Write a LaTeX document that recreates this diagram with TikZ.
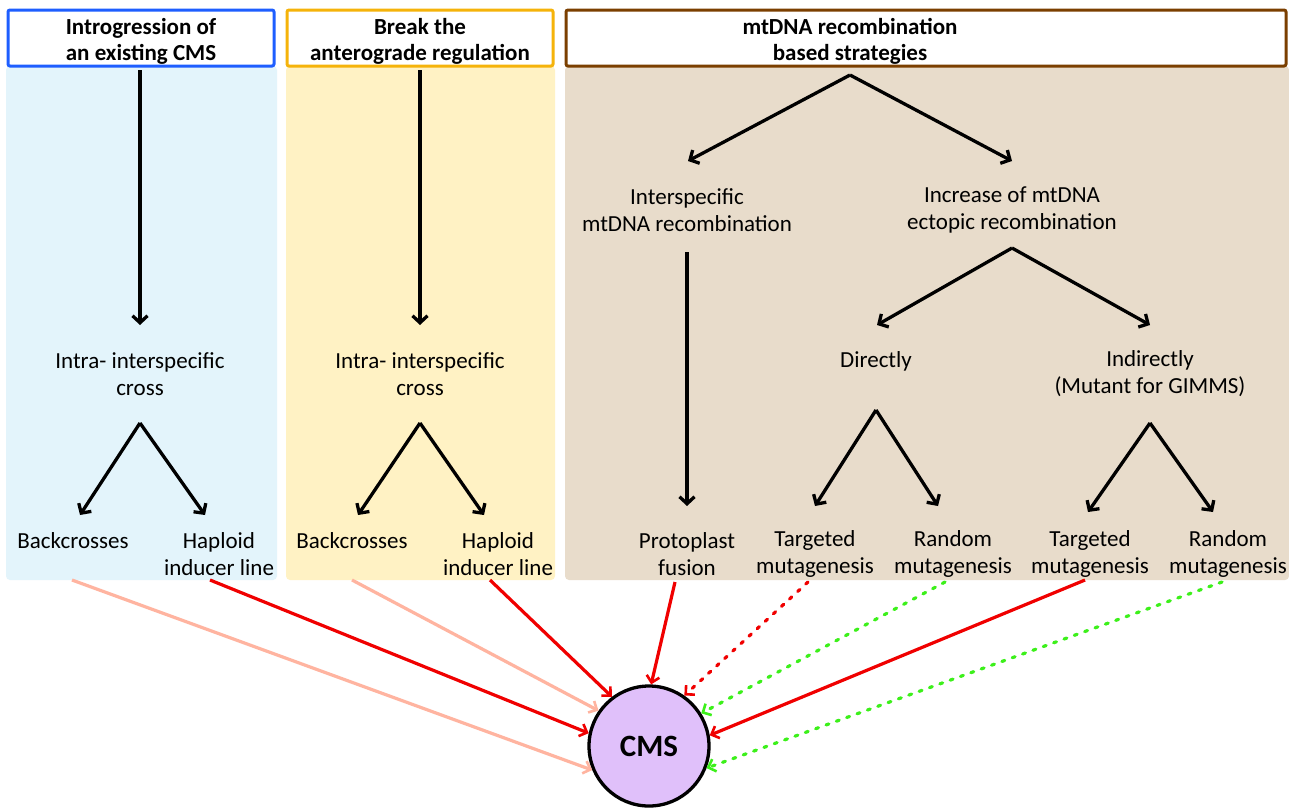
\documentclass[tikz,border=0pt]{standalone}
\usepackage{fontspec}
\setmainfont{Carlito}
\usetikzlibrary{arrows.meta}
\definecolor{bluebd}{HTML}{1E5EFF}
\definecolor{yellowbd}{HTML}{F5B30A}
\definecolor{brownbd}{HTML}{7B3F00}
\definecolor{bluebg}{HTML}{E3F4FB}
\definecolor{yellowbg}{HTML}{FFF2C4}
\definecolor{brownbg}{HTML}{E8DCCB}
\definecolor{salmon}{HTML}{FFB4A0}
\definecolor{redc}{HTML}{F00000}
\definecolor{greenc}{HTML}{3CF01A}
\definecolor{lav}{HTML}{E0C0FA}
\begin{document}
\begin{tikzpicture}[x=1pt,y=-1pt,
  hdr/.style={draw, line width=3pt, rounded corners=2pt, fill=white, align=center, inner sep=0pt,
     font=\fontsize{23}{26}\selectfont\bfseries},
  htxt/.style={align=center, inner sep=0pt, font=\fontsize{23}{26}\selectfont\bfseries},
  lbl/.style={align=center, inner sep=0pt, font=\fontsize{23}{27}\selectfont},
  barrow/.style={draw=black, line width=3.3pt, -{Straight Barb[length=7pt,width=15pt,line width=3.3pt]}},
  carrow/.style={line width=3.2pt, -{Straight Barb[length=6.5pt,width=13pt,line width=2.6pt]}},
  dotline/.style={dash pattern=on 3pt off 8pt, line cap=round}
]
\useasboundingbox (0,0) rectangle (1289,809);
\fill[white] (0,0) rectangle (1289,809);
% panels
\fill[bluebg, rounded corners=4pt] (6,66) rectangle (277,580);
\fill[yellowbg, rounded corners=4pt] (286,66) rectangle (555,580);
\fill[brownbg, rounded corners=4pt] (565,66) rectangle (1289,580);
% headers
\node[hdr, draw=bluebd, minimum width=266pt, minimum height=56pt] (h1) at (141,38) {};
\node[hdr, draw=yellowbd, minimum width=266pt, minimum height=56pt] (h2) at (420,38) {};
\node[hdr, draw=brownbd, minimum width=720pt, minimum height=56pt] (h3) at (926,38) {};
\node[htxt] (ht1) at (141,41) {Introgression of\\an existing CMS};
\node[htxt] (ht2) at (420,41) {Break the\\anterograde regulation};
\node[htxt] (ht3) at (850,41) {mtDNA recombination\\based strategies};

% panel 1
\node[lbl] (c1) at (140,374) {Intra- interspecific\\cross};
\node[lbl] (b1) at (73,541) {Backcrosses};
\node[lbl] (p1) at (219,554) {Haploid\\inducer line};
% panel 2
\node[lbl] (c2) at (420,374) {Intra- interspecific\\cross};
\node[lbl] (b2) at (352,541) {Backcrosses};
\node[lbl] (p2) at (498,554) {Haploid\\inducer line};
% panel 3
\node[lbl] (i1) at (687,210) {Interspecific\\mtDNA recombination};
\node[lbl] (i2) at (1012,210) {Increase of mtDNA\\ectopic recombination};
\node[lbl] (d1) at (876,361) {Directly};
\node[lbl] (d2) at (1150,374) {Indirectly\\(Mutant for GIMMS)};
\node[lbl] (m1) at (687,554) {Protoplast\\fusion};
\node[lbl] (m2) at (815,554) {Targeted\\mutagenesis};
\node[lbl] (m3) at (953,554) {Random\\mutagenesis};
\node[lbl] (m4) at (1090,554) {Targeted\\mutagenesis};
\node[lbl] (m5) at (1228,554) {Random\\mutagenesis};

% CMS
\node[circle, draw=black, line width=3.3pt, fill=lav, minimum size=120pt, inner sep=0pt,
  font=\fontsize{31}{34}\selectfont\bfseries] (cms) at (649,746) {CMS};

% coordinates
\coordinate (s1) at (140,70);  \coordinate (e1) at (140,325);
\coordinate (t1) at (140,423); \coordinate (tl1) at (80,515); \coordinate (tr1) at (205,515);
\coordinate (s2) at (420,70);  \coordinate (e2) at (420,325);
\coordinate (t2) at (420,423); \coordinate (tl2) at (358,515); \coordinate (tr2) at (484,515);
\coordinate (t3) at (850,75);  \coordinate (tl3) at (688,161); \coordinate (tr3) at (1012,161);
\coordinate (s4) at (687,252); \coordinate (e4) at (687,506);
\coordinate (t5) at (1012,248); \coordinate (tl5) at (877,325); \coordinate (tr5) at (1150,325);
\coordinate (t6) at (876,410); \coordinate (tl6) at (815,506); \coordinate (tr6) at (938,506);
\coordinate (t7) at (1150,423); \coordinate (tl7) at (1088,512); \coordinate (tr7) at (1213,512);

\draw[barrow] (s1) -- (e1);
\draw[barrow] (t1) -- (tl1);
\draw[barrow] (t1) -- (tr1);
\draw[barrow] (s2) -- (e2);
\draw[barrow] (t2) -- (tl2);
\draw[barrow] (t2) -- (tr2);
\draw[barrow] (t3) -- (tl3);
\draw[barrow] (t3) -- (tr3);
\draw[barrow] (s4) -- (e4);
\draw[barrow] (t5) -- (tl5);
\draw[barrow] (t5) -- (tr5);
\draw[barrow] (t6) -- (tl6);
\draw[barrow] (t6) -- (tr6);
\draw[barrow] (t7) -- (tl7);
\draw[barrow] (t7) -- (tr7);

% arrows to CMS
\coordinate (a1) at (72,580);
\coordinate (a2) at (210,580);
\coordinate (a3) at (352,580);
\coordinate (a4) at (490,580);
\coordinate (a5) at (675,582);
\coordinate (a6) at (808,582);
\coordinate (a7) at (945,582);
\coordinate (a8) at (1085,580);
\coordinate (a9) at (1222,582);
\draw[carrow, salmon] (a1) -- (cms.203);
\draw[carrow, redc] (a2) -- (cms.168);
\draw[carrow, salmon] (a3) -- (cms.145);
\draw[carrow, redc] (a4) -- (cms.127);
\draw[carrow, redc] (a5) -- (cms.88);
\draw[carrow, redc, dotline] (a6) -- (cms.55);
\draw[carrow, greenc, dotline] (a7) -- (cms.32);
\draw[carrow, redc] (a8) -- (cms.10);
\draw[carrow, greenc, dotline] (a9) -- (cms.-21);
\end{tikzpicture}
\end{document}
